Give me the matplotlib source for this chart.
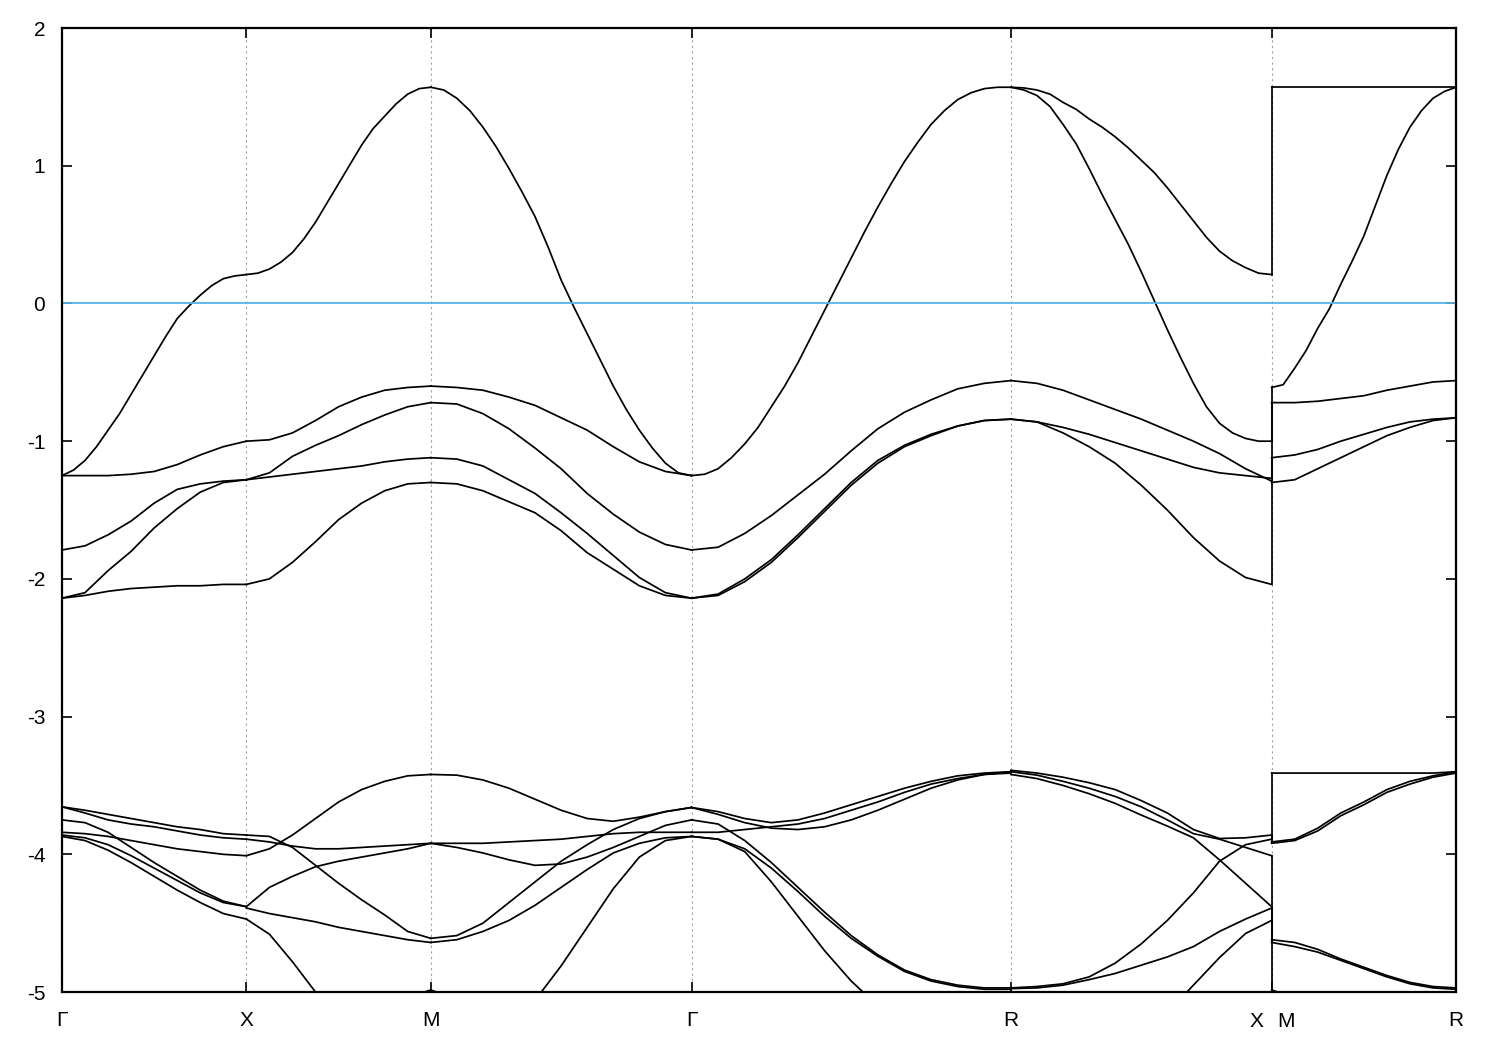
import numpy as np
import matplotlib.pyplot as plt

plt.rcParams['font.family'] = ['Liberation Sans', 'DejaVu Sans']
plt.rcParams['axes.unicode_minus'] = False

# path nodes (distance along the k-path)
node_labels = ['Γ', 'X', 'M', 'Γ', 'R', 'X', 'M', 'R']
node_k = [0.0, 1.0, 2.0, 3.414, 5.146, 6.560, 6.560, 7.560]

gx_bands = [
    [-1.25, -1.21, -1.14, -1.04, -0.92, -0.80, -0.66, -0.52, -0.38,
     -0.24, -0.11, -0.02, 0.06, 0.13, 0.18, 0.20, 0.21],
    [-1.25, -1.25, -1.25, -1.24, -1.22, -1.17, -1.10, -1.04, -1.00],
    [-1.79, -1.76, -1.68, -1.58, -1.45, -1.35, -1.31, -1.29, -1.28],
    [-2.14, -2.10, -1.94, -1.80, -1.63, -1.49, -1.37, -1.30, -1.28],
    [-2.14, -2.12, -2.09, -2.07, -2.06, -2.05, -2.05, -2.04, -2.04],
    [-3.655, -3.68, -3.71, -3.74, -3.77, -3.80, -3.82, -3.85, -3.86],
    [-3.655, -3.70, -3.75, -3.78, -3.80, -3.83, -3.86, -3.88, -3.89],
    [-3.84, -3.85, -3.87, -3.90, -3.93, -3.96, -3.98, -4.00, -4.01],
    [-3.75, -3.77, -3.84, -3.95, -4.06, -4.16, -4.26, -4.34, -4.38],
    [-3.86, -3.88, -3.93, -4.01, -4.10, -4.19, -4.28, -4.35, -4.38],
    [-3.87, -3.90, -3.97, -4.06, -4.16, -4.26, -4.35, -4.43, -4.47],
]

xm_bands = [
    [0.21, 0.22, 0.25, 0.30, 0.37, 0.47, 0.59, 0.73, 0.87,
     1.01, 1.15, 1.27, 1.36, 1.45, 1.52, 1.56, 1.57],
    [-1.00, -0.99, -0.94, -0.85, -0.75, -0.68, -0.63, -0.61, -0.60],
    [-1.28, -1.23, -1.11, -1.03, -0.96, -0.88, -0.81, -0.75, -0.72],
    [-1.28, -1.26, -1.24, -1.22, -1.20, -1.18, -1.15, -1.13, -1.12],
    [-2.04, -2.00, -1.88, -1.73, -1.57, -1.45, -1.36, -1.31, -1.30],
    [-4.01, -3.96, -3.86, -3.74, -3.62, -3.53, -3.47, -3.43, -3.42],
    [-3.86, -3.87, -3.95, -4.08, -4.21, -4.33, -4.44, -4.56, -4.61],
    [-3.89, -3.91, -3.94, -3.96, -3.96, -3.95, -3.94, -3.93, -3.92],
    [-4.38, -4.24, -4.16, -4.09, -4.05, -4.02, -3.99, -3.96, -3.92],
    [-4.39, -4.43, -4.46, -4.49, -4.53, -4.56, -4.59, -4.62, -4.64],
    [-4.47, -4.58, -4.78, -5.00, -5.20, -5.35, -5.45, -5.50, -5.50],
    [-5.90, -5.80, -5.65, -5.50, -5.35, -5.22, -5.12, -5.04, -4.985],
]

mg_bands = [
    [1.57, 1.55, 1.49, 1.40, 1.28, 1.14, 0.98, 0.81, 0.63, 0.41, 0.17,
     -0.03, -0.22, -0.41, -0.60, -0.77, -0.92, -1.05, -1.16, -1.23, -1.25],
    [-0.60, -0.61, -0.63, -0.68, -0.74, -0.83, -0.92, -1.04, -1.15, -1.22, -1.25],
    [-0.72, -0.73, -0.80, -0.91, -1.05, -1.20, -1.38, -1.53, -1.66, -1.75, -1.79],
    [-1.12, -1.13, -1.18, -1.28, -1.38, -1.52, -1.67, -1.83, -1.99, -2.10, -2.14],
    [-1.30, -1.31, -1.36, -1.44, -1.52, -1.65, -1.81, -1.93, -2.05, -2.12, -2.14],
    [-3.42, -3.425, -3.46, -3.52, -3.60, -3.68, -3.74, -3.76, -3.73, -3.69, -3.66],
    [-3.92, -3.92, -3.92, -3.91, -3.90, -3.89, -3.87, -3.85, -3.84, -3.84, -3.84],
    [-3.92, -3.95, -3.99, -4.04, -4.08, -4.07, -4.02, -3.95, -3.87, -3.79, -3.75],
    [-4.61, -4.59, -4.50, -4.35, -4.20, -4.05, -3.93, -3.82, -3.74, -3.69, -3.66],
    [-4.64, -4.62, -4.56, -4.48, -4.37, -4.24, -4.11, -3.99, -3.92, -3.88, -3.87],
    [-5.90, -5.80, -5.60, -5.35, -5.06, -4.81, -4.53, -4.25, -4.02, -3.90, -3.87],
    [-4.985, -5.05, -5.20, -5.40, -5.60, -5.80, -5.90, -6.00, -6.00, -6.00, -6.00],
]

gr_bands = [
    [-1.25, -1.24, -1.20, -1.12, -1.02, -0.90, -0.75, -0.60, -0.43, -0.24,
     -0.05, 0.14, 0.33, 0.52, 0.70, 0.87, 1.03, 1.17, 1.30, 1.40, 1.48,
     1.53, 1.56, 1.57, 1.57],
    [-1.79, -1.77, -1.67, -1.54, -1.39, -1.24, -1.07, -0.91, -0.79, -0.70, -0.62, -0.58, -0.56],
    [-2.14, -2.11, -2.00, -1.86, -1.68, -1.49, -1.30, -1.14, -1.03, -0.95, -0.89, -0.85, -0.84],
    [-2.14, -2.12, -2.02, -1.88, -1.70, -1.51, -1.32, -1.16, -1.04, -0.96, -0.89, -0.85, -0.84],
    [-3.66, -3.69, -3.74, -3.77, -3.75, -3.70, -3.64, -3.58, -3.52, -3.47, -3.43, -3.41, -3.40],
    [-3.66, -3.71, -3.77, -3.81, -3.82, -3.80, -3.75, -3.68, -3.60, -3.52, -3.46, -3.42, -3.41],
    [-3.84, -3.84, -3.82, -3.80, -3.78, -3.74, -3.68, -3.62, -3.55, -3.49, -3.45, -3.42, -3.40],
    [-3.75, -3.78, -3.90, -4.06, -4.24, -4.42, -4.59, -4.73, -4.84, -4.91, -4.95, -4.97, -4.97],
    [-3.87, -3.89, -3.96, -4.10, -4.27, -4.45, -4.61, -4.74, -4.85, -4.92, -4.96, -4.98, -4.98],
    [-3.87, -3.89, -3.98, -4.20, -4.45, -4.70, -4.92, -5.10, -5.28, -5.40, -5.50, -5.55, -5.55],
]

rx_bands = [
    [1.57, 1.565, 1.55, 1.52, 1.46, 1.41, 1.34, 1.28, 1.21, 1.13, 1.04,
     0.95, 0.84, 0.72, 0.60, 0.48, 0.38, 0.31, 0.26, 0.22, 0.21],
    [1.57, 1.55, 1.51, 1.43, 1.30, 1.16, 0.98, 0.79, 0.61, 0.43, 0.23,
     0.02, -0.19, -0.39, -0.58, -0.75, -0.87, -0.94, -0.98, -1.00, -1.00],
    [-0.56, -0.58, -0.63, -0.70, -0.77, -0.84, -0.92, -1.00, -1.09, -1.20, -1.29],
    [-0.84, -0.86, -0.90, -0.95, -1.01, -1.07, -1.13, -1.19, -1.23, -1.25, -1.27],
    [-0.84, -0.86, -0.94, -1.04, -1.16, -1.32, -1.50, -1.70, -1.87, -1.99, -2.04],
    [-3.39, -3.41, -3.44, -3.48, -3.53, -3.61, -3.70, -3.82, -3.885, -3.88, -3.86],
    [-3.40, -3.425, -3.47, -3.52, -3.58, -3.655, -3.75, -3.85, -3.89, -3.95, -4.01],
    [-3.42, -3.45, -3.50, -3.56, -3.63, -3.715, -3.795, -3.88, -4.04, -4.21, -4.38],
    [-4.97, -4.96, -4.94, -4.89, -4.79, -4.65, -4.48, -4.28, -4.05, -3.93, -3.89],
    [-4.975, -4.97, -4.95, -4.91, -4.865, -4.805, -4.745, -4.67, -4.56, -4.47, -4.39],
    [-5.60, -5.55, -5.50, -5.42, -5.35, -5.28, -5.15, -4.95, -4.75, -4.575, -4.48],
]

mr_bands = [
    [1.57, 1.57, 1.57, 1.57, 1.57, 1.57, 1.57, 1.57, 1.57],
    [-0.61, -0.59, -0.47, -0.34, -0.18, -0.04, 0.14, 0.31, 0.49,
     0.71, 0.93, 1.12, 1.28, 1.40, 1.49, 1.54, 1.57],
    [-0.72, -0.72, -0.71, -0.69, -0.67, -0.63, -0.60, -0.57, -0.56],
    [-1.12, -1.10, -1.06, -1.00, -0.95, -0.90, -0.86, -0.84, -0.83],
    [-1.30, -1.28, -1.20, -1.12, -1.04, -0.96, -0.90, -0.85, -0.83],
    [-3.41, -3.41, -3.41, -3.41, -3.41, -3.41, -3.41, -3.41, -3.40],
    [-3.91, -3.89, -3.81, -3.70, -3.62, -3.53, -3.47, -3.43, -3.40],
    [-3.92, -3.90, -3.83, -3.72, -3.64, -3.55, -3.49, -3.44, -3.41],
    [-4.62, -4.64, -4.69, -4.76, -4.82, -4.88, -4.93, -4.96, -4.97],
    [-4.64, -4.67, -4.71, -4.77, -4.83, -4.89, -4.94, -4.97, -4.98],
    [-4.985, -5.04, -5.15, -5.30, -5.40, -5.50, -5.55, -5.60, -5.60],
]

# band values at X (end of R-X) joined to the same band at M (start of M-R)
jump_from_x = [0.21, -1.00, -1.27, -1.29, -2.04, -3.89, -3.86, -4.01, -4.38, -4.47]
jump_to_m = [1.57, -0.61, -0.72, -1.12, -1.30, -3.41, -3.92, -4.61, -4.64, -5.50]

segments = [(0, gx_bands), (1, xm_bands), (2, mg_bands),
            (3, gr_bands), (4, rx_bands), (6, mr_bands)]

fig = plt.figure(figsize=(15, 10.5), dpi=100)
ax = fig.add_axes([0.0413, 0.0552, 0.9294, 0.9181])

for i, bands in segments:
    for e in bands:
        k = np.linspace(node_k[i], node_k[i + 1], len(e))
        ax.plot(k, e, color='black', lw=1.25, solid_joinstyle='round')

for e0, e1 in zip(jump_from_x, jump_to_m):
    ax.plot([node_k[5], node_k[6]], [e0, e1], color='black', lw=1.25)

ax.axhline(0, color='#56b4e9', lw=1.3)

ax.set_xlim(node_k[0], node_k[-1])
ax.set_ylim(-5, 2)

tick_k = [0.0, 1.0, 2.0, 3.414, 5.146, 6.560, 7.560]
ax.set_xticks(tick_k)
ax.set_xticklabels(['Γ', 'X', 'M', 'Γ', 'R', '', 'R'])
ax.text(node_k[5] - 0.08, -5.215, 'X', ha='center', va='center', fontsize=15)
ax.text(node_k[5] + 0.08, -5.215, 'M', ha='center', va='center', fontsize=15)
ax.set_yticks(range(-5, 3))

ax.grid(axis='x', color='#a0a0a0', ls=(0, (2, 3)), lw=0.8)
ax.tick_params(direction='in', length=7.5, width=1.2, top=True, right=True,
               labelsize=15, pad=12)
ax.tick_params(axis='x', pad=14)
for s in ax.spines.values():
    s.set_linewidth(1.6)

fig.savefig('out.png', dpi=100)
